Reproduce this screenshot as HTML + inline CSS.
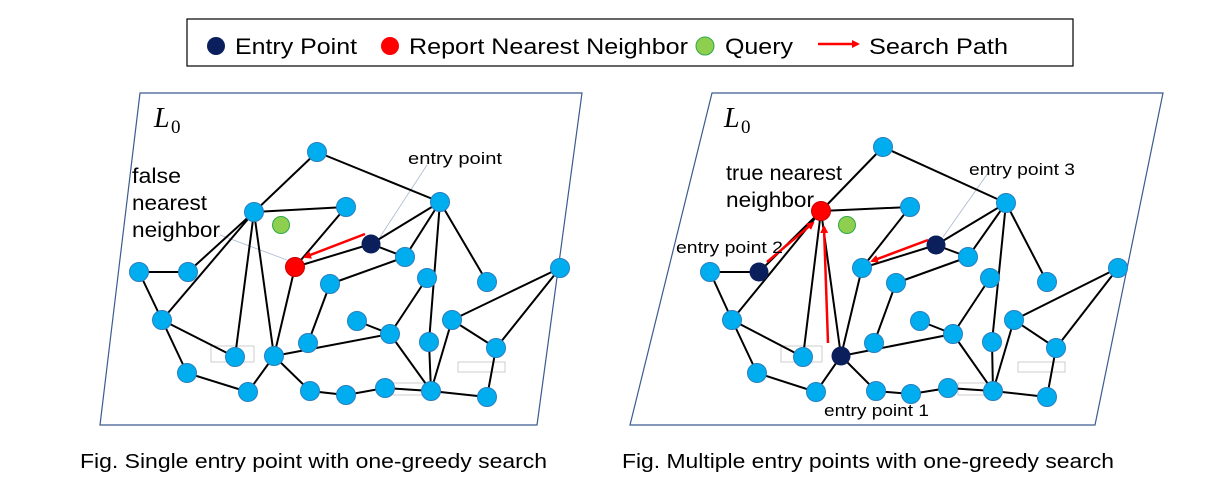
<!DOCTYPE html>
<html><head><meta charset="utf-8"><style>
html,body{margin:0;padding:0;background:#fff}
svg{display:block}
text{font-family:"Liberation Sans",Arial,sans-serif;fill:#000}
</style></head><body>
<svg width="1213" height="486" viewBox="0 0 1213 486" xmlns="http://www.w3.org/2000/svg">
<defs>
<marker id="ah" markerWidth="8" markerHeight="8" refX="6" refY="4" orient="auto" markerUnits="userSpaceOnUse"><path d="M0,0 L8,4 L0,8 z" fill="#f00"/></marker>
</defs>
<!-- legend -->
<rect x="187" y="19" width="886" height="47" fill="#fff" stroke="#000" stroke-width="1.2"/>
<circle cx="216" cy="46" r="9" fill="#0a1f5c"/>
<text x="235" y="54" font-size="22" textLength="122" lengthAdjust="spacingAndGlyphs">Entry Point</text>
<circle cx="390" cy="46" r="9" fill="#f00"/>
<text x="409" y="54" font-size="22" textLength="279" lengthAdjust="spacingAndGlyphs">Report Nearest Neighbor</text>
<circle cx="705" cy="46" r="9" fill="#8fcf4f" stroke="#2ea84a" stroke-width="1"/>
<text x="725" y="54" font-size="22" textLength="68" lengthAdjust="spacingAndGlyphs">Query</text>
<line x1="818" y1="44" x2="858" y2="44" stroke="#f00" stroke-width="2.5" marker-end="url(#ah)"/>
<text x="869" y="54" font-size="22" textLength="139" lengthAdjust="spacingAndGlyphs">Search Path</text>

<!-- LEFT -->
<polygon points="140,93 582,93 537,425 100,425" fill="#fff" stroke="#3d5a8f" stroke-width="1.2"/>
<text x="154" y="127" font-size="28" font-style="italic" style="font-family:'Liberation Serif',serif">L</text>
<text x="171" y="133" font-size="19" style="font-family:'Liberation Serif',serif">0</text>
<g fill="none" stroke="#ccc" stroke-width="1">
<rect x="211" y="346" width="43" height="16"/><rect x="458" y="362" width="47" height="10"/><rect x="393" y="383" width="35" height="12"/>
</g>
<g stroke="#aab8d0" stroke-width="0.8"><line x1="427" y1="165" x2="380" y2="237"/><line x1="220" y1="235" x2="287" y2="260"/></g>
<g stroke="#000" stroke-width="2" fill="none">
<path d="M317,152L254,212M317,152L440,202M254,212L346,207M346,207L295,267M295,267L371,244M371,244L440,202M371,244L405,257M440,202L405,257M440,202L429,342M440,202L487,282M139,272L188,272M139,272L162,320M254,212L162,320M254,212L235,357M254,212L274,356M254,212L188,272M295,267L274,356M162,320L235,357M162,320L187,373M187,373L248,392M248,392L274,356M274,356L390,334M274,356L310,391M310,391L346,395M346,395L385,388M385,388L431,391M405,257L330,284M330,284L308,343M357,321L390,334M390,334L427,278M390,334L431,391M429,342L431,391M452,320L431,391M452,320L560,268M452,320L496,348M496,348L560,268M496,348L487,397M431,391L487,397"/>
</g>
<g fill="#00aeef" stroke="#2a7fc0" stroke-width="1">
<circle cx="317" cy="152" r="9.5"/><circle cx="440" cy="202" r="9.5"/><circle cx="254" cy="212" r="9.5"/><circle cx="346" cy="207" r="9.5"/><circle cx="405" cy="257" r="9.5"/><circle cx="139" cy="272" r="9.5"/><circle cx="188" cy="272" r="9.5"/><circle cx="330" cy="284" r="9.5"/><circle cx="427" cy="278" r="9.5"/><circle cx="487" cy="282" r="9.5"/><circle cx="560" cy="268" r="9.5"/><circle cx="162" cy="320" r="9.5"/><circle cx="357" cy="321" r="9.5"/><circle cx="390" cy="334" r="9.5"/><circle cx="452" cy="320" r="9.5"/><circle cx="308" cy="343" r="9.5"/><circle cx="429" cy="342" r="9.5"/><circle cx="496" cy="348" r="9.5"/><circle cx="235" cy="357" r="9.5"/><circle cx="274" cy="356" r="9.5"/><circle cx="187" cy="373" r="9.5"/><circle cx="248" cy="392" r="9.5"/><circle cx="310" cy="391" r="9.5"/><circle cx="346" cy="395" r="9.5"/><circle cx="385" cy="388" r="9.5"/><circle cx="431" cy="391" r="9.5"/><circle cx="487" cy="397" r="9.5"/>
</g>
<circle cx="281" cy="225" r="8.5" fill="#8fcf4f" stroke="#2ea84a"/>
<circle cx="371" cy="244" r="9.5" fill="#0a1f5c"/>
<circle cx="295" cy="267" r="9.5" fill="#f00" stroke="#c00"/>
<line x1="365" y1="234" x2="305" y2="257" stroke="#f00" stroke-width="2.5" marker-end="url(#ah)"/>
<text x="132" y="183" font-size="21" textLength="49" lengthAdjust="spacingAndGlyphs">false</text>
<text x="132" y="210" font-size="21" textLength="75" lengthAdjust="spacingAndGlyphs">nearest</text>
<text x="132" y="237" font-size="21" textLength="88" lengthAdjust="spacingAndGlyphs">neighbor</text>
<text x="408" y="164" font-size="17" textLength="94" lengthAdjust="spacingAndGlyphs">entry point</text>

<!-- RIGHT -->
<polygon points="712,93 1163,93 1095,425 630,425" fill="#fff" stroke="#3d5a8f" stroke-width="1.2"/>
<text x="724" y="127" font-size="28" font-style="italic" style="font-family:'Liberation Serif',serif">L</text>
<text x="741" y="133" font-size="19" style="font-family:'Liberation Serif',serif">0</text>
<g fill="none" stroke="#ccc" stroke-width="1">
<rect x="781" y="346" width="41" height="16"/><rect x="1018" y="362" width="47" height="10"/><rect x="958" y="383" width="35" height="12"/>
</g>
<g stroke="#aab8d0" stroke-width="0.8"><line x1="988" y1="173" x2="943" y2="237"/></g>
<g stroke="#000" stroke-width="2" fill="none">
<path d="M883,147L821,211M883,147L1006,203M821,211L910,207M910,207L862,268M862,268L936,245M936,245L1006,203M936,245L968,257M1006,203L968,257M1006,203L992,342M1006,203L1047,282M710,272L759,272M710,272L732,320M821,211L732,320M821,211L803,357M821,211L841,356M821,211L759,272M862,268L841,356M732,320L803,357M732,320L757,373M757,373L816,392M816,392L841,356M841,356L953,334M841,356L876,391M876,391L911,394M911,394L948,388M948,388L993,391M968,257L896,283M896,283L874,343M920,321L953,334M953,334L990,278M953,334L993,391M992,342L993,391M1014,320L993,391M1014,320L1118,268M1014,320L1056,348M1056,348L1118,268M1056,348L1047,397M993,391L1047,397"/>
</g>
<g fill="#00aeef" stroke="#2a7fc0" stroke-width="1">
<circle cx="883" cy="147" r="9.5"/><circle cx="1006" cy="203" r="9.5"/><circle cx="910" cy="207" r="9.5"/><circle cx="968" cy="257" r="9.5"/><circle cx="710" cy="272" r="9.5"/><circle cx="862" cy="268" r="9.5"/><circle cx="896" cy="283" r="9.5"/><circle cx="990" cy="278" r="9.5"/><circle cx="1047" cy="282" r="9.5"/><circle cx="1118" cy="268" r="9.5"/><circle cx="732" cy="320" r="9.5"/><circle cx="920" cy="321" r="9.5"/><circle cx="953" cy="334" r="9.5"/><circle cx="1014" cy="320" r="9.5"/><circle cx="874" cy="343" r="9.5"/><circle cx="992" cy="342" r="9.5"/><circle cx="1056" cy="348" r="9.5"/><circle cx="803" cy="357" r="9.5"/><circle cx="757" cy="373" r="9.5"/><circle cx="816" cy="392" r="9.5"/><circle cx="876" cy="391" r="9.5"/><circle cx="911" cy="394" r="9.5"/><circle cx="948" cy="388" r="9.5"/><circle cx="993" cy="391" r="9.5"/><circle cx="1047" cy="397" r="9.5"/>
</g>
<circle cx="847" cy="225" r="8.5" fill="#8fcf4f" stroke="#2ea84a"/>
<circle cx="936" cy="245" r="9.5" fill="#0a1f5c"/>
<circle cx="759" cy="272" r="9.5" fill="#0a1f5c"/>
<circle cx="841" cy="356" r="9.5" fill="#0a1f5c"/>
<circle cx="821" cy="211" r="9.5" fill="#f00" stroke="#c00"/>
<g stroke="#f00" stroke-width="2.5">
<line x1="767" y1="262" x2="813" y2="223" marker-end="url(#ah)"/>
<line x1="828" y1="343" x2="824" y2="227" marker-end="url(#ah)"/>
<line x1="928" y1="240" x2="872" y2="261" marker-end="url(#ah)"/>
</g>
<text x="726" y="180" font-size="21" textLength="116" lengthAdjust="spacingAndGlyphs">true nearest</text>
<text x="726" y="207" font-size="21" textLength="88" lengthAdjust="spacingAndGlyphs">neighbor</text>
<text x="969" y="175" font-size="17" textLength="106" lengthAdjust="spacingAndGlyphs">entry point 3</text>
<text x="676" y="253" font-size="17" textLength="107" lengthAdjust="spacingAndGlyphs">entry point 2</text>
<text x="824" y="416" font-size="17" textLength="105" lengthAdjust="spacingAndGlyphs">entry point 1</text>

<text x="80" y="468" font-size="20" textLength="467" lengthAdjust="spacingAndGlyphs">Fig.  Single entry point with one-greedy search</text>
<text x="622" y="468" font-size="20" textLength="492" lengthAdjust="spacingAndGlyphs">Fig.  Multiple entry points with one-greedy search</text>
</svg>
</body></html>
